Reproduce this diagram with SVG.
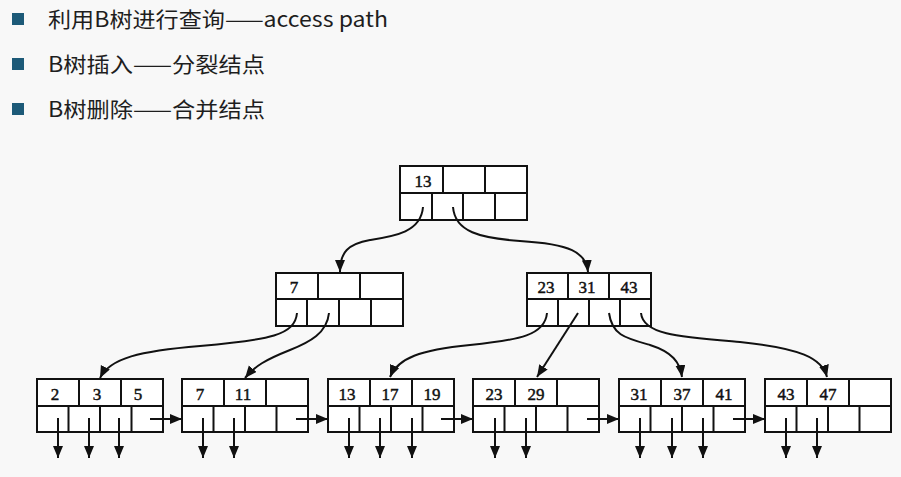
<svg xmlns="http://www.w3.org/2000/svg" width="901" height="477" viewBox="0 0 901 477">
<style>
.bg{fill:#f8f8f8}
.bul{fill:#1d5a78}
.h{font-family:"Noto Sans CJK SC","Noto Sans",sans-serif;font-size:21px;fill:#1e1e1e}
.box{fill:#ffffff;stroke:#111;stroke-width:2}
.ln{stroke:#111;stroke-width:2;fill:none}
.k{font-family:"Liberation Serif","Times New Roman",serif;font-size:17px;fill:#111;text-anchor:middle;stroke:#111;stroke-width:0.45}
.c{stroke:#111;stroke-width:2;fill:none;marker-end:url(#ah)}
</style>
<defs>
<marker id="ah" markerUnits="userSpaceOnUse" markerWidth="13" markerHeight="11" refX="12" refY="5" orient="auto">
<path d="M0,0 L12,5 L0,10 z" fill="#111"/>
</marker>
</defs>
<rect class="bg" x="0" y="0" width="901" height="477"/>
<g id="bullets">
<rect class="bul" x="12" y="13" width="12" height="12"/>
<text class="h" x="48" y="27" textLength="340" lengthAdjust="spacingAndGlyphs">利用B树进行查询——access path</text>
<rect class="bul" x="12" y="58" width="12" height="12"/>
<text class="h" x="48" y="72" textLength="217" lengthAdjust="spacingAndGlyphs">B树插入——分裂结点</text>
<rect class="bul" x="12" y="103" width="12" height="12"/>
<text class="h" x="48" y="117" textLength="217" lengthAdjust="spacingAndGlyphs">B树删除——合并结点</text>
</g>
<g id="root">
<rect class="box" x="400" y="166" width="127" height="54"/>
<path class="ln" d="M400,193 H527 M443,166 V193 M485,166 V193 M432,193 V220 M463,193 V220 M495,193 V220"/>
<text class="k" x="423" y="187">13</text>
</g>
<g id="mid-left">
<rect class="box" x="276" y="273" width="127" height="53"/>
<path class="ln" d="M276,299 H403 M318,273 V299 M360,273 V299 M307,299 V326 M339,299 V326 M371,299 V326"/>
<text class="k" x="294" y="293">7</text>
</g>
<g id="mid-right">
<rect class="box" x="527" y="273" width="124" height="53"/>
<path class="ln" d="M527,299 H651 M568,273 V299 M609,273 V299 M558,299 V326 M589,299 V326 M620,299 V326"/>
<text class="k" x="546" y="293">23</text>
<text class="k" x="587" y="293">31</text>
<text class="k" x="629" y="293">43</text>
</g>
<g id="leaf1">
<rect class="box" x="37" y="379" width="126" height="53"/>
<path class="ln" d="M37,406 H163 M79,379 V406 M121,379 V406 M68.5,406 V432 M100,406 V432 M131.5,406 V432"/>
<text class="k" x="55" y="400">2</text><text class="k" x="97" y="400">3</text><text class="k" x="138" y="400">5</text>
</g>
<g id="leaf2">
<rect class="box" x="182" y="379" width="126" height="53"/>
<path class="ln" d="M182,406 H308 M224,379 V406 M266,379 V406 M213.5,406 V432 M245,406 V432 M276.5,406 V432"/>
<text class="k" x="200" y="400">7</text><text class="k" x="243" y="400">11</text>
</g>
<g id="leaf3">
<rect class="box" x="328" y="379" width="126" height="53"/>
<path class="ln" d="M328,406 H454 M370,379 V406 M412,379 V406 M359.5,406 V432 M391,406 V432 M422.5,406 V432"/>
<text class="k" x="347" y="400">13</text><text class="k" x="390" y="400">17</text><text class="k" x="432" y="400">19</text>
</g>
<g id="leaf4">
<rect class="box" x="473" y="379" width="126" height="53"/>
<path class="ln" d="M473,406 H599 M515,379 V406 M557,379 V406 M504.5,406 V432 M536,406 V432 M567.5,406 V432"/>
<text class="k" x="494" y="400">23</text><text class="k" x="536" y="400">29</text>
</g>
<g id="leaf5">
<rect class="box" x="619" y="379" width="126" height="53"/>
<path class="ln" d="M619,406 H745 M661,379 V406 M703,379 V406 M650.5,406 V432 M682,406 V432 M713.5,406 V432"/>
<text class="k" x="639" y="400">31</text><text class="k" x="682" y="400">37</text><text class="k" x="724" y="400">41</text>
</g>
<g id="leaf6">
<rect class="box" x="765" y="379" width="126" height="53"/>
<path class="ln" d="M765,406 H891 M807,379 V406 M849,379 V406 M796.5,406 V432 M828,406 V432 M859.5,406 V432"/>
<text class="k" x="786" y="400">43</text><text class="k" x="828" y="400">47</text>
</g>
<g id="connectors">
<path class="c" d="M423,207 C421,232 395,236 370,240 C348,244 340,252 340,272"/>
<path class="c" d="M453,207 C455,232 480,238 520,241 C570,244 586,252 588,272"/>
<path class="c" d="M297,313 C295,335 270,340 200,346 C140,351 110,358 100,378"/>
<path class="c" d="M329,313 C327,333 310,342 290,350 C265,360 255,366 245,378"/>
<path class="c" d="M547,313 C545,335 520,340 470,345 C420,350 398,358 390,377"/>
<path class="c" d="M578,313 L537,377"/>
<path class="c" d="M609,313 C612,335 625,338 650,345 C672,352 680,362 682,377"/>
<path class="c" d="M641,313 C643,335 680,337 740,342 C800,348 822,358 827,377"/>
<path class="c" d="M150,419 H182"/>
<path class="c" d="M296,419 H328"/>
<path class="c" d="M441,419 H473"/>
<path class="c" d="M587,419 H619"/>
<path class="c" d="M733,419 H765"/>
<path class="c" d="M58,418 V458"/><path class="c" d="M89,418 V458"/><path class="c" d="M119,418 V458"/>
<path class="c" d="M203,418 V458"/><path class="c" d="M234,418 V458"/>
<path class="c" d="M349,418 V458"/><path class="c" d="M380,418 V458"/><path class="c" d="M412,418 V458"/>
<path class="c" d="M495,418 V458"/><path class="c" d="M526,418 V458"/>
<path class="c" d="M640,418 V458"/><path class="c" d="M672,418 V458"/><path class="c" d="M703,418 V458"/>
<path class="c" d="M786,418 V458"/><path class="c" d="M817,418 V458"/>
</g>
</svg>
